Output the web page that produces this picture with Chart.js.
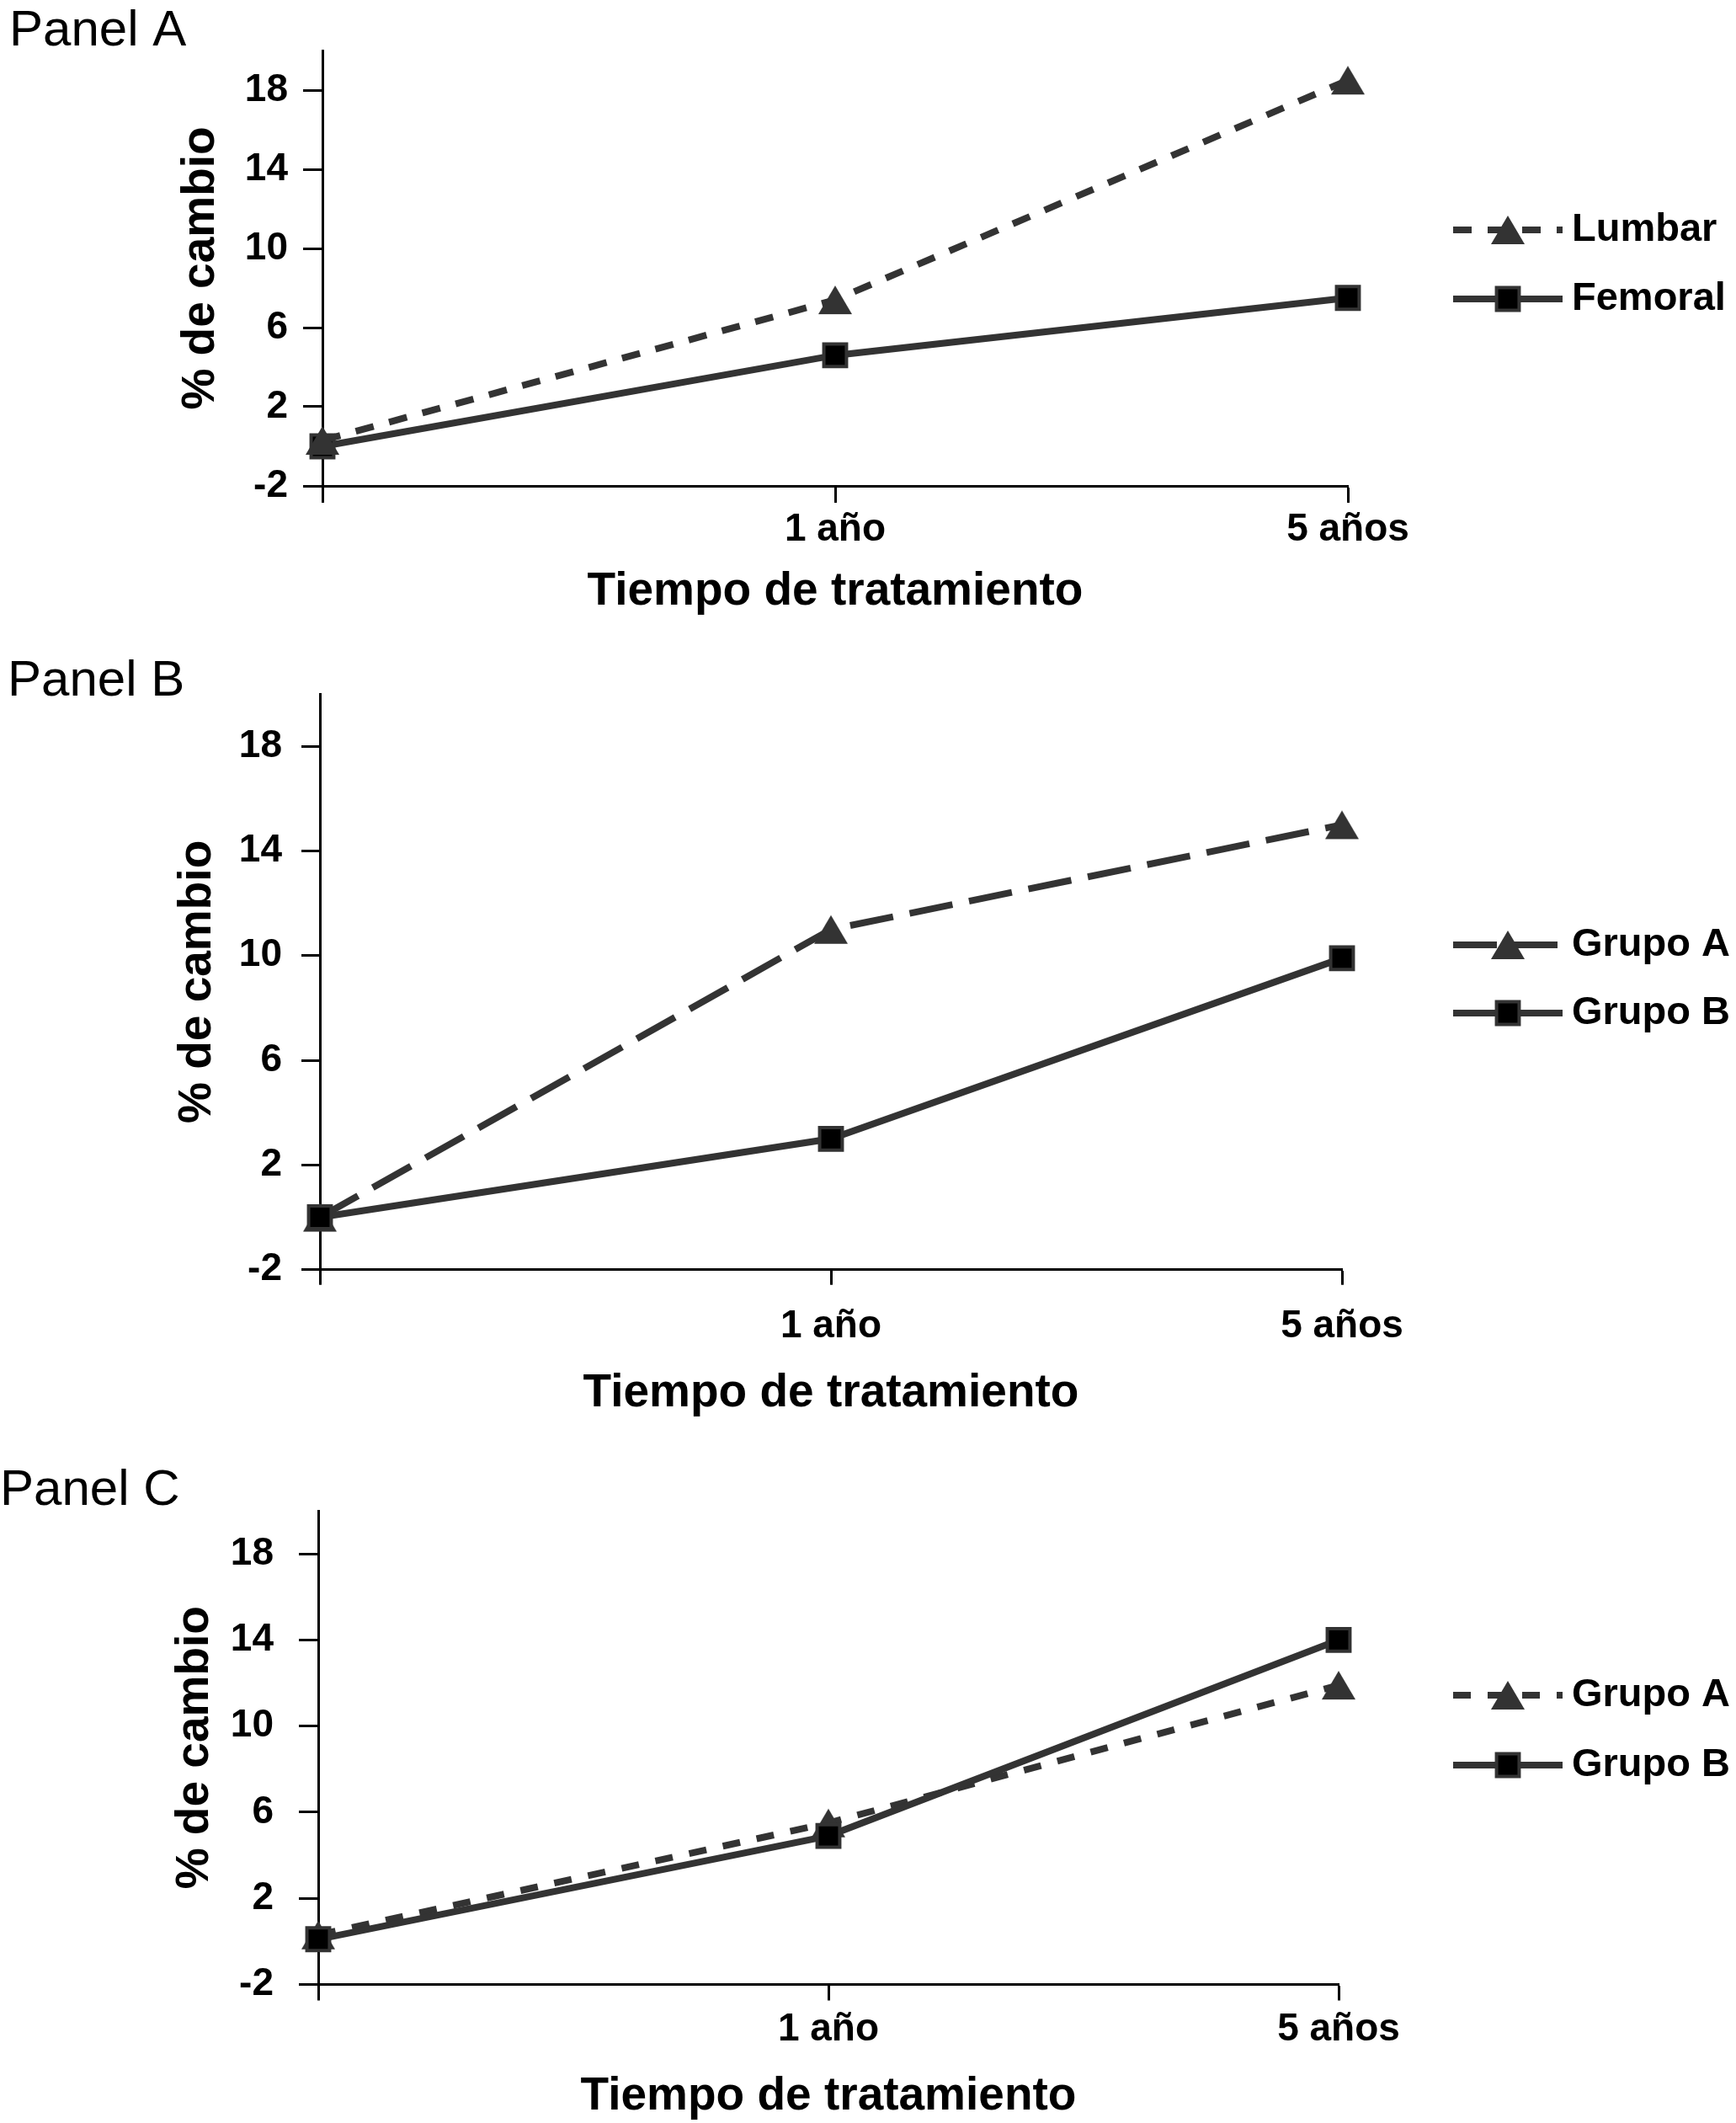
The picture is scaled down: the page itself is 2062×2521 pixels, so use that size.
<!DOCTYPE html>
<html>
<head>
<meta charset="utf-8">
<title>% de cambio</title>
<script src="https://cdn.jsdelivr.net/npm/chart.js@4.4.1/dist/chart.umd.min.js"></script>
<style>
  html, body { margin: 0; padding: 0; background: #fff; }
  #wrap { position: relative; width: 2062px; height: 2521px; }
  canvas { position: absolute; left: 0; }
</style>
</head>
<body>
<div id="wrap">
  <canvas id="panelA" width="2062" height="760" style="top:0px"></canvas>
  <canvas id="panelB" width="2062" height="960" style="top:760px"></canvas>
  <canvas id="panelC" width="2062" height="801" style="top:1720px"></canvas>
</div>
<script>
// values
const timeLabels = ['', '1 año', '5 años'];
const yTicks = [-2, 2, 6, 10, 14, 18];
const yMin = -2;
const yMax = 20;

const lumbar = [0.3, 7.4, 18.5];
const femoral = [0, 4.6, 7.5];

const grupoA_B = [0, 11.0, 15.0];
const grupoB_B = [0, 3.0, 9.9];

const grupoA_C = [0.3, 5.5, 11.9];
const grupoB_C = [0.1, 4.9, 14.0];

Chart.defaults.font.family = '"Liberation Sans", Arial, Helvetica, sans-serif';
Chart.defaults.color = '#000';

const LINE = '#333333';

// triangle marker centred on its box (like the spreadsheet one)
const triMark = document.createElement('canvas');
triMark.width = 42;
triMark.height = 36;
(function () {
  const c = triMark.getContext('2d');
  c.fillStyle = LINE;
  c.beginPath();
  c.moveTo(1, 35);
  c.lineTo(21, 1);
  c.lineTo(41, 35);
  c.closePath();
  c.fill();
})();

// line + marker + name, drawn to the right of the plot
const seriesKey = {
  id: 'seriesKey',
  afterDraw(chart, args, opts) {
    const ctx = chart.ctx;
    chart.data.datasets.forEach((ds, i) => {
      const y = opts.rows[i];
      ctx.save();
      ctx.strokeStyle = ds.borderColor;
      ctx.lineWidth = ds.borderWidth;
      ctx.setLineDash(ds.borderDash || []);
      ctx.beginPath();
      ctx.moveTo(opts.x0, y);
      ctx.lineTo(opts.x1, y);
      ctx.stroke();
      ctx.setLineDash([]);
      ctx.fillStyle = ds.pointBackgroundColor;
      ctx.strokeStyle = ds.pointBorderColor;
      ctx.lineWidth = ds.pointBorderWidth;
      Chart.helpers.drawPoint(ctx, {
        pointStyle: ds.pointStyle, radius: ds.pointRadius,
        borderWidth: ds.pointBorderWidth, rotation: 0
      }, (opts.x0 + opts.x1) / 2, y);
      ctx.fillStyle = '#000';
      ctx.font = 'bold 47px "Liberation Sans", Arial, sans-serif';
      ctx.textAlign = 'left';
      ctx.textBaseline = 'middle';
      ctx.fillText(ds.label, opts.textX, y);
      ctx.restore();
    });
  }
};

function triangleSet(label, data, dash, order) {
  return {
    label, data, order,
    borderColor: LINE, borderWidth: 8, borderDash: dash,
    pointStyle: triMark, pointRadius: 21,
    pointBackgroundColor: LINE, pointBorderColor: LINE, pointBorderWidth: 0,
    tension: 0, clip: false
  };
}

function squareSet(label, data, order) {
  return {
    label, data, order,
    borderColor: LINE, borderWidth: 8, borderDash: [],
    pointStyle: 'rect', pointRadius: 19,
    pointBackgroundColor: '#000', pointBorderColor: LINE, pointBorderWidth: 4,
    tension: 0, clip: false
  };
}

function buildPanel(id, title, L, datasets) {
  const titleLh = 2 * (L.top - L.titleMid);
  return new Chart(document.getElementById(id), {
    type: 'line',
    data: { labels: timeLabels, datasets },
    options: {
      responsive: false,
      devicePixelRatio: 1,
      animation: false,
      events: [],
      layout: { padding: { left: L.padLeft, right: 2062 - L.right, top: 0, bottom: 0 } },
      plugins: {
        legend: { display: false },
        tooltip: { enabled: false },
        title: {
          display: true, text: title, align: 'start', color: '#000',
          font: { size: 60, weight: 'normal', lineHeight: titleLh + 'px' },
          padding: { top: L.titleMid - titleLh / 2, bottom: 0 }
        },
        seriesKey: { rows: L.keyRows, x0: 1726, x1: 1856, textX: 1867 }
      },
      scales: {
        x: {
          type: 'category',
          offset: false,
          grid: { drawOnChartArea: false, color: '#000', tickLength: L.xTickLen, tickWidth: 3 },
          border: { display: true, color: '#000', width: 3 },
          ticks: {
            autoSkip: false, maxRotation: 0, padding: L.xTickPad, color: '#000',
            font: { size: 46, weight: 'bold', lineHeight: 1 }
          },
          title: {
            display: true, text: 'Tiempo de tratamiento', color: '#000',
            font: { size: 55, weight: 'bold', lineHeight: 1 },
            padding: { top: 0, bottom: L.h - L.xTitleMid - 27.5 }
          },
          afterFit: s => { s.height = L.h - L.bottom; }
        },
        y: {
          min: yMin, max: yMax,
          afterBuildTicks: s => { s.ticks = yTicks.map(v => ({ value: v })); },
          grid: { drawOnChartArea: false, color: '#000', tickLength: L.yTickLen, tickWidth: 3 },
          border: { display: true, color: '#000', width: 3 },
          ticks: { padding: L.yTickPad, color: '#000', font: { size: 46, weight: 'bold', lineHeight: 1 } },
          title: {
            display: true, text: '% de cambio', color: '#000',
            font: { size: 55, weight: 'bold', lineHeight: 1 },
            padding: { top: L.yTitleMid - L.padLeft - 27.5, bottom: 0 }
          },
          afterFit: s => { s.width = L.left - L.padLeft; }
        }
      }
    },
    plugins: [seriesKey]
  });
}

buildPanel('panelA', 'Panel A', {
  h: 760, left: 383, right: 1601, top: 60, bottom: 577, padLeft: 11, titleMid: 37.5,
  yTickLen: 23, yTickPad: 18, xTickLen: 20, xTickPad: 9, xTitleMid: 703, yTitleMid: 239,
  keyRows: [273, 355]
}, [
  triangleSet('Lumbar', lumbar, [22, 19], 0),
  squareSet('Femoral', femoral, 1)
]);

buildPanel('panelB', 'Panel B', {
  h: 960, left: 380, right: 1594, top: 64, bottom: 747.7, padLeft: 9, titleMid: 49,
  yTickLen: 22, yTickPad: 23, xTickLen: 18, xTickPad: 27, xTitleMid: 895, yTitleMid: 235,
  keyRows: [362, 443]
}, [
  triangleSet('Grupo A', grupoA_B, [52, 20], 1),
  squareSet('Grupo B', grupoB_B, 0)
]);

buildPanel('panelC', 'Panel C', {
  h: 801, left: 378, right: 1590, top: 74, bottom: 636.5, padLeft: 0, titleMid: 50,
  yTickLen: 23, yTickPad: 30, xTickLen: 19, xTickPad: 12, xTitleMid: 770, yTitleMid: 231.5,
  keyRows: [293, 376]
}, [
  triangleSet('Grupo A', grupoA_C, [21, 20], 1),
  squareSet('Grupo B', grupoB_C, 0)
]);
</script>
</body>
</html>
